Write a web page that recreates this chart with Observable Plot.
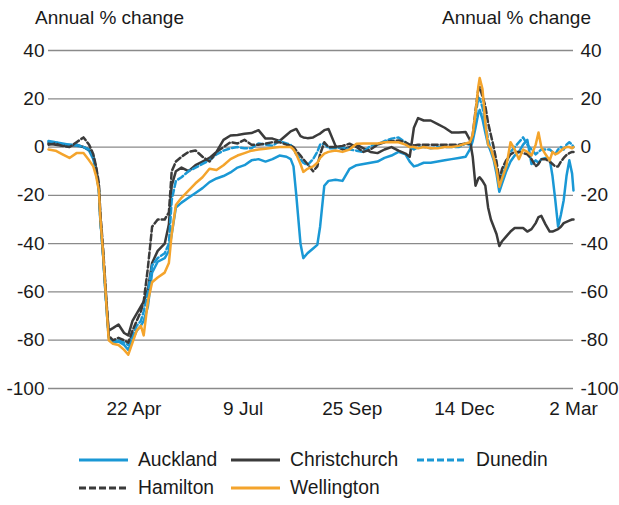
<!DOCTYPE html>
<html><head><meta charset="utf-8">
<script src="https://cdn.jsdelivr.net/npm/d3@7"></script>
<script src="https://cdn.jsdelivr.net/npm/@observablehq/plot@0.6"></script>
<style>
body{margin:0;background:#fff;font-family:"Liberation Sans",Arial,sans-serif;color:#1a1a1a;}
#wrap{position:relative;width:619px;height:505px;overflow:hidden;}
.hdr{position:absolute;top:8px;font-size:19px;line-height:19px;white-space:nowrap;}
#chart{position:absolute;left:0;top:0;}
#legend{position:absolute;left:79px;top:446px;display:grid;grid-template-columns:152px 186px auto;grid-auto-rows:28px;font-size:19.3px;}
.item{display:flex;align-items:center;white-space:nowrap;}
.item svg{margin-right:10px;}
</style></head><body>
<div id="wrap">
<div id="chart"></div>
<div class="hdr" style="left:35px">Annual % change</div>
<div class="hdr" style="right:28px">Annual % change</div>
<div id="legend"></div>
</div>
<script>
const dates = [
"2020-02-21","2020-02-26","2020-03-02","2020-03-07","2020-03-12","2020-03-17","2020-03-21","2020-03-24","2020-03-26","2020-03-28",
"2020-03-29","2020-03-31","2020-04-02","2020-04-04","2020-04-07","2020-04-11","2020-04-15","2020-04-18","2020-04-21","2020-04-24",
"2020-04-27","2020-04-29","2020-05-02","2020-05-05","2020-05-09","2020-05-14","2020-05-17","2020-05-19","2020-05-22","2020-05-26",
"2020-05-31","2020-06-05","2020-06-10","2020-06-15","2020-06-20","2020-06-25","2020-06-30","2020-07-05","2020-07-10","2020-07-15",
"2020-07-20","2020-07-25","2020-07-30","2020-08-04","2020-08-09","2020-08-12","2020-08-14","2020-08-16","2020-08-19","2020-08-21",
"2020-08-24","2020-08-28","2020-08-31","2020-09-02","2020-09-05","2020-09-08","2020-09-13","2020-09-18","2020-09-23","2020-09-28",
"2020-10-03","2020-10-08","2020-10-13","2020-10-18","2020-10-23","2020-10-28","2020-11-02","2020-11-05","2020-11-08","2020-11-11",
"2020-11-15","2020-11-20","2020-11-25","2020-11-30","2020-12-05","2020-12-10","2020-12-15","2020-12-18","2020-12-20","2020-12-22",
"2020-12-24","2020-12-25","2020-12-27","2020-12-29","2020-12-31","2021-01-02","2021-01-04","2021-01-06","2021-01-08","2021-01-10",
"2021-01-13","2021-01-16","2021-01-19","2021-01-22","2021-01-25","2021-01-28","2021-01-31","2021-02-03","2021-02-05","2021-02-07",
"2021-02-10","2021-02-13","2021-02-15","2021-02-17","2021-02-19","2021-02-21","2021-02-23","2021-02-25","2021-02-27","2021-03-01","2021-03-02"
];

const auckland = [
2, 2, 1.5, 1, 0.5, 0, -1.5, -5, -10, -18,
-30, -45, -63, -79, -81, -80.5, -82, -84, -80, -76,
-74, -72, -66, -52, -47.5, -46, -43, -36, -25, -23,
-21, -19, -17, -14.5, -13, -12, -10.5, -8.5, -7.5, -5.5,
-5, -6, -5, -3.5, -4, -5, -8, -20, -40, -46,
-44, -42, -40.5, -33, -16, -14, -13.5, -14, -9, -7.5,
-7, -6.5, -6, -4.5, -3.5, -2, -3, -6, -8, -7.5,
-6.5, -6.5, -6, -5.5, -5, -4.5, -4, -1, 2.5, 8,
14, 15.4, 11.5, 6, 1, -2, -5.4, -11, -18.5, -15,
-10, -6, -3.5, -2, 1, 3, -7, -5.5, -6.5, -5,
-4.5, -5, -12, -22, -33, -28, -22, -12, -5.5, -11, -18
];
const christchurch = [
1.5, 1, 0.5, 0.5, 1, 0, -1, -4, -9, -17,
-29, -44, -62, -76, -75, -73.5, -77, -78, -72, -69,
-66, -64, -59, -48, -43, -40, -32, -16, -10, -8.5,
-10, -7.5, -6, -4.5, -2, 3, 4.8, 5, 5.5, 5.8,
7, 3.5, 3.5, 2.5, 5, 6.5, 7, 7.5, 4.5, 4,
3.7, 4, 5, 5.6, 7, 7.5, 0.5, -1, 0, 1,
-0.5, -2, -2.5, -1, 0, -1.5, -2.7, -4, 8, 12,
11, 11, 9.5, 8, 6, 6, 6.2, 3, -4, -16,
-13, -12.5, -14, -16, -25, -30, -33, -36, -41, -39,
-37, -35, -33.5, -33.5, -33.5, -35, -34, -31.5, -29, -28.5,
-32, -35, -35, -34.5, -34, -33, -31.5, -31, -30.5, -30, -30
];
const dunedin = [
2.5, 2, 1, 1, 1, 0, -1, -4, -10, -18,
-30, -45, -63, -79, -80, -80, -81, -82, -78, -74,
-72, -68, -60, -49, -46, -44, -40, -22, -14, -12.5,
-10, -8.5, -7, -5.5, -3, -1.5, -0.5, 0, -0.5, -0.5,
1.5, 1, 0.5, 2.5, 1.5, 1, -1, -3, -5, -6.5,
-7.5, -5, -2, 1, 1.5, -0.5, -0.5, 0, -1, -1.5,
-2, 0.5, 1, 2.5, 3.5, 4, 2, 0, -1, 0,
0, -0.5, 0, 0, 0, 0, 1.5, 1, 4, 13,
20.5, 20, 16.5, 10, 3, -1, -4, -9, -15.5, -11,
-7, -2, 0, 2, 4, 1, -1, -3, -2, -1,
-1, -1, -2, -3, -1, 0, -1, 1, 2, 1, 0
];
const hamilton = [
1, 1.5, 0.5, 0, 2, 4, 1, -3, -8, -15,
-27, -42, -60, -78, -80, -79, -80, -81, -76, -72,
-68, -64, -50, -33, -30, -30, -27, -10, -6, -4,
-2, -1.4, -4, -6, -2, 0, 2, 1.5, 3, 1,
1, 1.4, 2, 2, 1, 0.7, 0, -1.5, -3.5, -5,
-7, -10, -8, -3, 2, 0, 0, 0.5, 1.4, 0,
-2, -1, 1, 2, 2.5, 2.7, 2, 1, 0.7, 1,
1, 1, 1, 1, 1, 1, 1.5, 1.5, 5, 15,
24, 24.9, 21, 17, 10, 5, 0, -6, -13.5, -9,
-5.4, -3, -2, -2, -2.5, -3, -5, -8, -7, -5,
-5, -6, -7, -8, -8, -6, -4.5, -3.3, -2.5, -2, -2
];
const wellington = [
-1, -1.5, -3, -4.5, -2.5, -2.5, -5.5, -8, -12, -18,
-29, -44, -62, -80, -81.5, -82, -84, -86, -81, -76,
-74, -78, -64, -56, -54, -52, -48, -36, -24, -21,
-18, -15, -12.5, -9, -9.5, -7.5, -5, -3.5, -2.5, -1.5,
-1, -0.7, -0.3, 0, 0, 0, -1, -3, -7, -10.3,
-9, -8, -6.5, -4.5, -2.7, -2, -1.4, -2, -1, 1.4,
1.5, 1.5, 1.5, 2, 2, 2, 1, 0, 0, -0.5,
0, -0.5, -0.5, 0, 0, 0.5, 1.5, 2, 5, 14,
25, 28.6, 24, 10, 1, -0.5, -4.5, -9, -16.5, -13,
-8, 2, -1, -5, -1, -2, -3.5, 1, 6, 0,
-3, -5.5, -2, -3, -2.5, -1.5, -0.5, 0, 0, -0.5, 0
];

const seriesNames = ["Auckland", "Christchurch", "Dunedin", "Hamilton", "Wellington"];
const seriesValues = [auckland, christchurch, dunedin, hamilton, wellington];
const seriesColors = ["#1a98d5", "#3b3b3b", "#1a98d5", "#3b3b3b", "#f4a42c"];
const seriesDash = [null, null, "6,3", "6,3", null];
const legendOrder = ["Auckland", "Christchurch", "Dunedin", "Hamilton", "Wellington"];

const yTicks = [-100, -80, -60, -40, -20, 0, 20, 40];
const xTickDates = ["2020-04-22", "2020-07-09", "2020-09-25", "2020-12-14", "2021-03-02"];
const xDomain = ["2020-02-21", "2021-03-02"];

const parse = d3.utcParse("%Y-%m-%d");
const fmt = d3.utcFormat("%-d %b");

const lineMarks = seriesNames.map((name, i) => {
  const rows = dates.map((d, j) => ({date: parse(d), value: seriesValues[i][j]}));
  const opts = {x: "date", y: "value", stroke: seriesColors[i], strokeWidth: 2.5, strokeLinejoin: "round"};
  if (seriesDash[i]) opts.strokeDasharray = seriesDash[i];
  return Plot.line(rows, opts);
});

const chart = Plot.plot({
  width: 619,
  height: 425,
  marginTop: 50,
  marginBottom: 37,
  marginLeft: 48,
  marginRight: 46,
  style: {fontFamily: '"Liberation Sans", Arial, sans-serif', fontSize: "19px", color: "#1a1a1a", background: "transparent", overflow: "visible"},
  x: {type: "utc", domain: xDomain.map(parse)},
  y: {domain: [-100, 40]},
  marks: [
    Plot.gridY({ticks: yTicks, stroke: "#8a8a8a", strokeOpacity: 1, strokeWidth: 1.3}),
    Plot.axisY({anchor: "left", ticks: yTicks, tickSize: 0, tickPadding: 4, tickFormat: d => String(d), label: null, fontSize: 19}),
    Plot.axisY({anchor: "right", ticks: yTicks, tickSize: 0, tickPadding: 7, tickFormat: d => String(d), label: null, fontSize: 19}),
    Plot.axisX({ticks: xTickDates.map(parse), tickSize: 0, tickPadding: 13, tickFormat: fmt, label: null, fontSize: 19}),
    ...lineMarks
  ]
});
document.getElementById("chart").appendChild(chart);

const legend = document.getElementById("legend");
legendOrder.forEach(name => {
  const i = seriesNames.indexOf(name);
  const item = document.createElement("div");
  item.className = "item";
  const dash = seriesDash[i] ? ` stroke-dasharray="7,3"` : "";
  item.innerHTML = `<svg width="49" height="10"><line x1="0" x2="49" y1="5" y2="5" stroke="${seriesColors[i]}" stroke-width="3"${dash}/></svg><span>${name}</span>`;
  legend.appendChild(item);
});
</script>
</body></html>
